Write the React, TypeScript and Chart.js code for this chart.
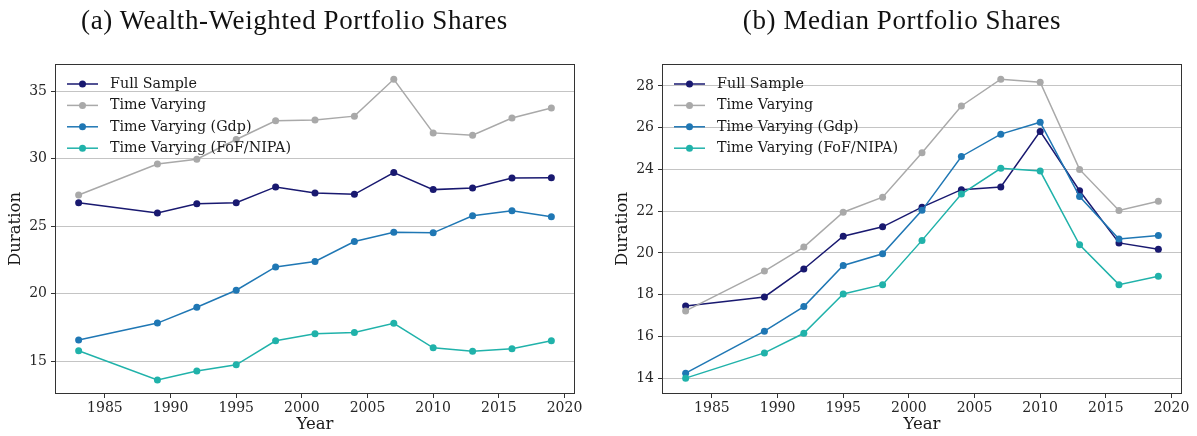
import React, { useEffect, useRef } from "react";
import { Chart, registerables } from "chart.js";

Chart.register(...registerables);

// ---------- data ----------
const years = [1983, 1989, 1992, 1995, 1998, 2001, 2004, 2007, 2010, 2013, 2016, 2019];
const seriesLabels = ["Full Sample", "Time Varying", "Time Varying (Gdp)", "Time Varying (FoF/NIPA)"];
const seriesColors = ["#191970", "#a9a9a9", "#1f77b4", "#20b2aa"];

const wealthFull = [26.73, 25.97, 26.66, 26.73, 27.9, 27.45, 27.35, 28.96, 27.7, 27.82, 28.56, 28.57];
const wealthTV = [27.3, 29.6, 29.95, 31.41, 32.8, 32.85, 33.14, 35.87, 31.9, 31.73, 33.0, 33.74];
const wealthGdp = [16.56, 17.82, 18.99, 20.25, 21.98, 22.38, 23.86, 24.55, 24.5, 25.77, 26.14, 25.69];
const wealthFoF = [15.77, 13.61, 14.28, 14.73, 16.51, 17.03, 17.13, 17.8, 15.99, 15.74, 15.92, 16.51];

const medianFull = [17.46, 17.89, 19.23, 20.8, 21.25, 22.19, 23.03, 23.16, 25.82, 22.98, 20.48, 20.17];
const medianTV = [17.22, 19.13, 20.28, 21.95, 22.67, 24.8, 27.04, 28.32, 28.18, 24.0, 22.03, 22.47];
const medianGdp = [14.24, 16.25, 17.43, 19.4, 19.96, 22.04, 24.62, 25.69, 26.26, 22.7, 20.67, 20.83];
const medianFoF = [14.0, 15.21, 16.15, 18.03, 18.48, 20.6, 22.82, 24.05, 23.92, 20.39, 18.48, 18.88];

const xTickValues = [1985, 1990, 1995, 2000, 2005, 2010, 2015, 2020];
const wealthYTicks = [15, 20, 25, 30, 35];
const medianYTicks = [14, 16, 18, 20, 22, 24, 26, 28];

const titleA = "(a) Wealth-Weighted Portfolio Shares";
const titleB = "(b) Median Portfolio Shares";
const xTitle = "Year";
const yTitle = "Duration";

// ---------- plugins ----------
const FONT = "'DejaVu Serif', serif";

const framePlugin = {
  id: "frame",
  afterDraw(chart: any) {
    const { ctx, chartArea } = chart;
    ctx.save();
    ctx.strokeStyle = "#333333";
    ctx.lineWidth = 1;
    const l = Math.round(chartArea.left) + 0.5;
    const t = Math.round(chartArea.top) + 0.5;
    const r = Math.round(chartArea.right) - 0.5;
    const b = Math.round(chartArea.bottom) - 0.5;
    ctx.strokeRect(l, t, r - l, b - t);
    ctx.restore();
  },
};

const legendPlugin = {
  id: "lineLegend",
  afterDatasetsDraw(chart: any) {
    const ctx = chart.ctx;
    ctx.save();
    chart.data.datasets.forEach((ds: any, i: number) => {
      const y = 84 + i * 21.4;
      ctx.strokeStyle = ds.borderColor;
      ctx.lineWidth = 1.5;
      ctx.beginPath();
      ctx.moveTo(67, y);
      ctx.lineTo(98, y);
      ctx.stroke();
      ctx.fillStyle = ds.borderColor;
      ctx.beginPath();
      ctx.arc(82.5, y, 3.5, 0, Math.PI * 2);
      ctx.fill();
      ctx.fillStyle = "#1a1a1a";
      ctx.font = `14.3px ${FONT}`;
      ctx.textBaseline = "middle";
      ctx.textAlign = "left";
      ctx.fillText(ds.label, 110, y);
    });
    ctx.restore();
  },
};

type PanelProps = {
  left: number;
  series: number[][];
  yTicks: number[];
  yMin: number;
  yMax: number;
};

function Panel({ left, series, yTicks, yMin, yMax }: PanelProps) {
  const ref = useRef<HTMLCanvasElement>(null);
  useEffect(() => {
    if (!ref.current) return;
    const datasets = series.map((vals, i) => ({
      label: seriesLabels[i],
      data: years.map((yr, j) => ({ x: yr, y: vals[j] })),
      borderColor: seriesColors[i],
      backgroundColor: seriesColors[i],
      pointBackgroundColor: seriesColors[i],
      pointBorderWidth: 0,
      pointRadius: 3.5,
      borderWidth: 1.5,
      tension: 0,
      order: series.length - i,
    }));
    const chart = new Chart(ref.current, {
      type: "line",
      data: { datasets },
      plugins: [framePlugin, legendPlugin],
      options: {
        animation: false,
        responsive: false,
        devicePixelRatio: 1,
        layout: { padding: { top: 64, right: 20, left: 0, bottom: 0 } },
        plugins: { legend: { display: false }, tooltip: { enabled: false }, title: { display: false } },
        scales: {
          x: {
            type: "linear",
            min: 1981.2,
            max: 2020.8,
            afterBuildTicks: (s: any) => {
              s.ticks = xTickValues.map((v) => ({ value: v }));
            },
            afterFit: (s: any) => {
              s.height = 42;
            },
            border: { display: false },
            grid: { drawOnChartArea: false, drawTicks: true, tickLength: 4, tickColor: "#333333", tickWidth: 1 },
            ticks: {
              padding: 2,
              color: "#262626",
              font: { family: FONT, size: 14 },
              maxRotation: 0,
              autoSkip: false,
              callback: (v: any) => String(v),
            },
            title: {
              display: true,
              text: xTitle,
              color: "#1a1a1a",
              font: { family: FONT, size: 16.5 },
              padding: { top: 0, bottom: 1.5 },
            },
          },
          y: {
            type: "linear",
            min: yMin,
            max: yMax,
            afterBuildTicks: (s: any) => {
              s.ticks = yTicks.map((v) => ({ value: v }));
            },
            afterFit: (s: any) => {
              s.width = 55;
            },
            border: { display: false },
            grid: { drawOnChartArea: true, color: "#c4c4c4", lineWidth: 1, drawTicks: true, tickLength: 4, tickColor: "#333333", tickWidth: 1 },
            ticks: {
              padding: 4,
              color: "#262626",
              font: { family: FONT, size: 14 },
              autoSkip: false,
              callback: (v: any) => String(v),
            },
            title: {
              display: true,
              text: yTitle,
              color: "#1a1a1a",
              font: { family: FONT, size: 16.5 },
              padding: { top: 6, bottom: 0 },
            },
          },
        },
      },
    } as any);
    return () => chart.destroy();
  }, []);
  return (
    <canvas
      ref={ref}
      width={595}
      height={436}
      style={{ position: "absolute", left, top: 0, width: 595, height: 436 }}
    />
  );
}

const titleStyle = (center: number): React.CSSProperties => ({
  position: "absolute",
  left: center - 300,
  width: 600,
  top: 5,
  lineHeight: "30px",
  textAlign: "center",
  fontFamily: "'Liberation Serif', serif",
  fontSize: 27,
  letterSpacing: "0.6px",
  color: "#111",
  whiteSpace: "nowrap",
});

export default function App() {
  return (
    <div style={{ position: "absolute", left: 0, top: 0, width: 1197, height: 436, background: "#fff", overflow: "hidden" }}>
      <Panel left={0} series={[wealthFull, wealthTV, wealthGdp, wealthFoF]} yTicks={wealthYTicks} yMin={12.57} yMax={37.0} />
      <Panel left={607} series={[medianFull, medianTV, medianGdp, medianFoF]} yTicks={medianYTicks} yMin={13.24} yMax={29.05} />
      <div style={titleStyle(294.5)}>{titleA}</div>
      <div style={titleStyle(902)}>{titleB}</div>
    </div>
  );
}
